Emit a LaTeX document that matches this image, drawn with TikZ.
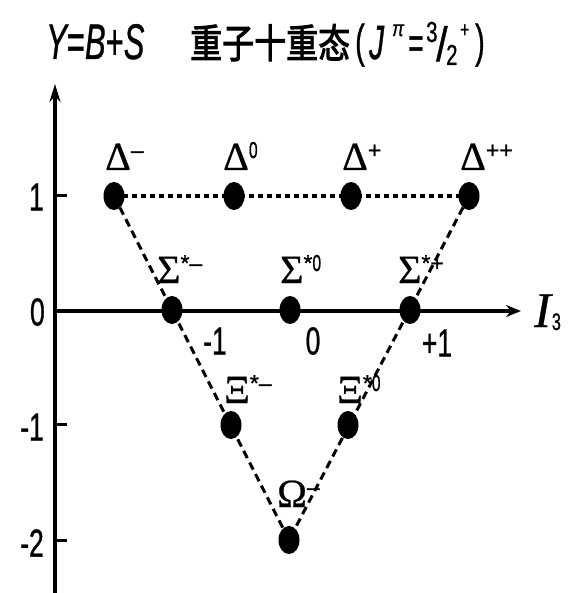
\documentclass[tikz,border=0pt]{standalone}
\usepackage{fontspec}
\usepackage{graphicx}
\usetikzlibrary{shapes.geometric,arrows.meta}
\newfontfamily\numf{Liberation Sans}[FakeBold=1]
\newfontfamily\grkf{Liberation Serif}[FakeBold=0.6]
\newfontfamily\cjkf{Noto Sans CJK SC}[FakeBold=2.5]
\newcommand\psup[1]{\raisebox{12pt}{\numf\fontsize{23}{23}\selectfont #1}}
\newcommand\condensed[1]{\scalebox{0.68}[1]{#1}}
\begin{document}
\begin{tikzpicture}[x=1pt,y=-1pt,
  dot/.style={ellipse, fill=black, inner sep=0pt, minimum width=21pt, minimum height=28pt},
  axisnum/.style={inner sep=0pt, font=\numf\fontsize{39}{39}\selectfont},
  plab/.style={anchor=base west, inner sep=0pt, font=\grkf\fontsize{40}{40}\selectfont},
  tpart/.style={anchor=base west, inner sep=0pt},
  dashline/.style={line width=3pt, dash pattern=on 8pt off 5pt},
  dotline/.style={line width=4pt, dash pattern=on 5pt off 4pt},
  axisline/.style={line width=3.5pt},
  tickline/.style={line width=3pt}
]
\useasboundingbox (0,0) rectangle (568,593);
% axes
\coordinate (yb) at (55,593);
\coordinate (yt) at (55,84);
\coordinate (xo) at (55,311);
\coordinate (xe) at (521,311);
\draw[axisline, -{Stealth[length=18pt,width=11pt]}] (yb) -- (yt);
\draw[line width=4pt, -{Stealth[length=15pt,width=12pt]}] (xo) -- (xe);
\draw[tickline] (55,196) -- (67,196);
\draw[tickline] (55,424) -- (67,424);
\draw[tickline] (55,540) -- (67,540);
% axis numbers
\node[axisnum, anchor=east] (y1) at (44,197) {\condensed{1}};
\node[axisnum, anchor=east] (y0) at (45,312) {\condensed{0}};
\node[axisnum, anchor=east] (ym1) at (44,427) {\condensed{-1}};
\node[axisnum, anchor=east] (ym2) at (44,543) {\condensed{-2}};
\node[axisnum] (xm1) at (215,341) {\condensed{-1}};
\node[axisnum] (x0) at (313,341) {\condensed{0}};
\node[axisnum] (xp1) at (437,343) {\condensed{+1}};
\node[tpart] (i3) at (534,327) {\grkf\itshape\fontsize{50}{50}\selectfont I\kern1pt\raisebox{-3pt}{\upshape\numf\fontsize{24}{24}\selectfont\condensed{3}}};
% title
\node[tpart] (t1) at (46,59) {\numf\fontsize{50}{50}\selectfont\scalebox{0.62}[1]{\itshape Y\upshape=\itshape B\upshape+\itshape S}};
\node[tpart] (t2) at (190,58) {\cjkf\fontsize{40}{40}\selectfont\scalebox{0.8}[1]{重子十重态}};
\node[tpart] (t3a) at (355,57) {\numf\fontsize{46}{46}\selectfont\scalebox{0.62}[1]{(}};
\node[tpart] (t3b) at (369,59) {\numf\itshape\fontsize{48}{48}\selectfont\scalebox{0.62}[1]{J}};
\node[tpart] (t3c) at (392,36) {\numf\itshape\fontsize{22}{22}\selectfont\scalebox{0.8}[1]{π}};
\node[tpart] (t3d) at (408,58) {\numf\fontsize{44}{44}\selectfont\scalebox{0.6}[1]{=}};
\node[tpart] (t3e) at (426,42) {\numf\fontsize{29}{29}\selectfont\scalebox{0.7}[1]{3}};
\node[tpart] (t3f) at (436,61) {\numf\fontsize{48}{48}\selectfont\scalebox{0.85}[1]{/}};
\node[tpart] (t3g) at (446,65) {\numf\fontsize{29}{29}\selectfont\scalebox{0.7}[1]{2}};
\node[tpart] (t3h) at (460,37) {\numf\fontsize{22}{22}\selectfont\scalebox{0.7}[1]{+}};
\node[tpart] (t3i) at (475,57) {\numf\fontsize{46}{46}\selectfont\scalebox{0.62}[1]{)}};
% particle positions
\coordinate (dm) at (114,196);
\coordinate (dz) at (234,196);
\coordinate (dp) at (351,196);
\coordinate (dpp) at (469,196);
\coordinate (sm) at (172,310);
\coordinate (sz) at (290,310);
\coordinate (sp) at (410,310);
\coordinate (xm) at (231,425);
\coordinate (xz) at (348,425);
\coordinate (om) at (289,540);
% connectors
\draw[dotline] (dm) -- (dpp);
\draw[dashline] (dm) -- (om);
\draw[dashline] (dpp) -- (om);
% dots
\foreach \p in {dm,dz,dp,dpp,sm,sz,sp,xm,xz,om}
  \node[dot] (n\p) at (\p) {};
% labels
\node[plab] (ldm) at (105,170) {Δ\psup{–}};
\node[plab] (ldz) at (223,170) {Δ\psup{\condensed{0}}};
\node[plab] (ldp) at (342,170) {Δ\psup{+}};
\node[plab] (ldpp) at (460,170) {Δ\psup{++}};
\node[plab] (lsm) at (157,283) {Σ\psup{*–}};
\node[plab] (lsz) at (280,283) {Σ\psup{*\condensed{0}}};
\node[plab] (lsp) at (398,283) {Σ\psup{*+}};
\node[plab] (lxm) at (224,403) {Ξ\psup{*–}};
\node[plab] (lxz) at (337,403) {Ξ\psup{*\condensed{0}}};
\node[plab] (lom) at (277,507) {Ω\psup{–}};
\end{tikzpicture}
\end{document}
